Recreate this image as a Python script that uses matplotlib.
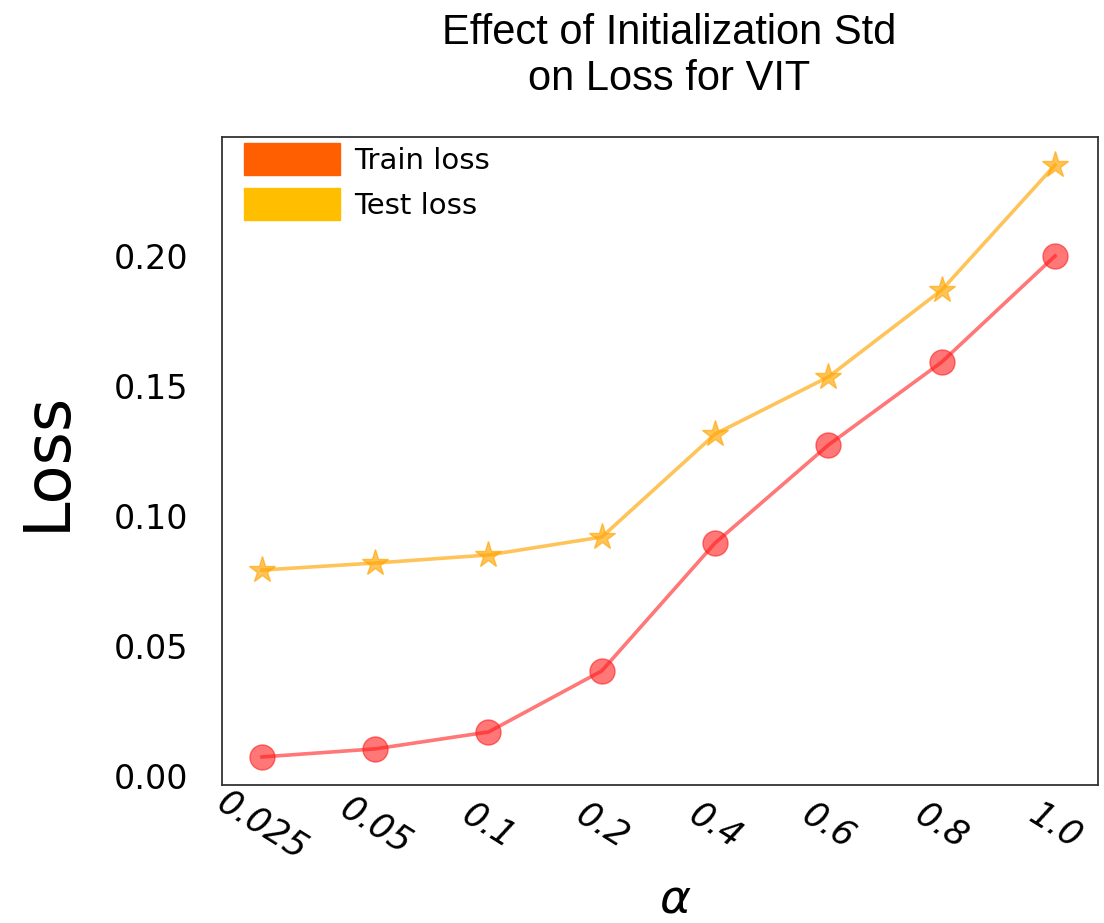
import matplotlib
matplotlib.use("Agg")
import matplotlib.pyplot as plt
import matplotlib.patches as mpatches
import numpy as np

alphas = ["0.025", "0.05", "0.1", "0.2", "0.4", "0.6", "0.8", "1.0"]
train_loss = [0.0073, 0.0104, 0.0169, 0.0404, 0.0896, 0.1273, 0.1592, 0.2000]
test_loss = [0.0792, 0.0819, 0.0850, 0.0919, 0.1315, 0.1535, 0.1869, 0.2350]

train_color = "#ff1c1c"
test_color = "#ffa500"

fig = plt.figure(figsize=(11.04, 9.23), dpi=100)
ax = fig.add_axes([0.201, 0.1495, 0.7936, 0.7021])

x = np.arange(len(alphas))
ax.plot(x, train_loss, color=train_color, alpha=0.6, linewidth=2.6,
        marker="o", markersize=18, markeredgecolor=train_color)
ax.plot(x, test_loss, color=test_color, alpha=0.65, linewidth=2.6,
        marker="*", markersize=20, markeredgecolor=test_color)

ax.set_xlim(-0.353, 7.38)
ax.set_ylim(-0.0035, 0.2458)
ax.set_yticks([0.0, 0.05, 0.10, 0.15, 0.20])
ax.set_yticklabels(["0.00", "0.05", "0.10", "0.15", "0.20"], fontsize=24,
                   family="DejaVu Sans")
ax.set_xticks(x)
ax.set_xticklabels(alphas, fontsize=25, family="DejaVu Sans", style="italic",
                   rotation=-32, ha="center", va="center")
ax.tick_params(axis="y", length=0, pad=24)
ax.tick_params(axis="x", length=0, pad=29)

for sp in ax.spines.values():
    sp.set_color("#333333")
    sp.set_linewidth(1.3)

ax.set_ylabel("Loss", fontsize=46, family="DejaVu Sans", labelpad=26)
ax.set_xlabel(r"$\alpha$", fontsize=34)
ax.xaxis.set_label_coords(0.517, -0.143)
ax.set_title("Effect of Initialization Std\non Loss for VIT", fontsize=30,
             family="Liberation Sans", pad=34, x=0.51)

handles = [mpatches.Patch(color="#ff5f00", label="Train loss"),
           mpatches.Patch(color="#ffbf00", label="Test loss")]
ax.legend(handles=handles, loc="upper left", bbox_to_anchor=(0.0, 1.024),
          frameon=False, prop={"family": "DejaVu Sans", "size": 21},
          handlelength=3.3, handleheight=1.3, handletextpad=0.5,
          labelspacing=0.45, borderaxespad=0.45, borderpad=0.3)

fig.savefig("out.png", dpi=100)
